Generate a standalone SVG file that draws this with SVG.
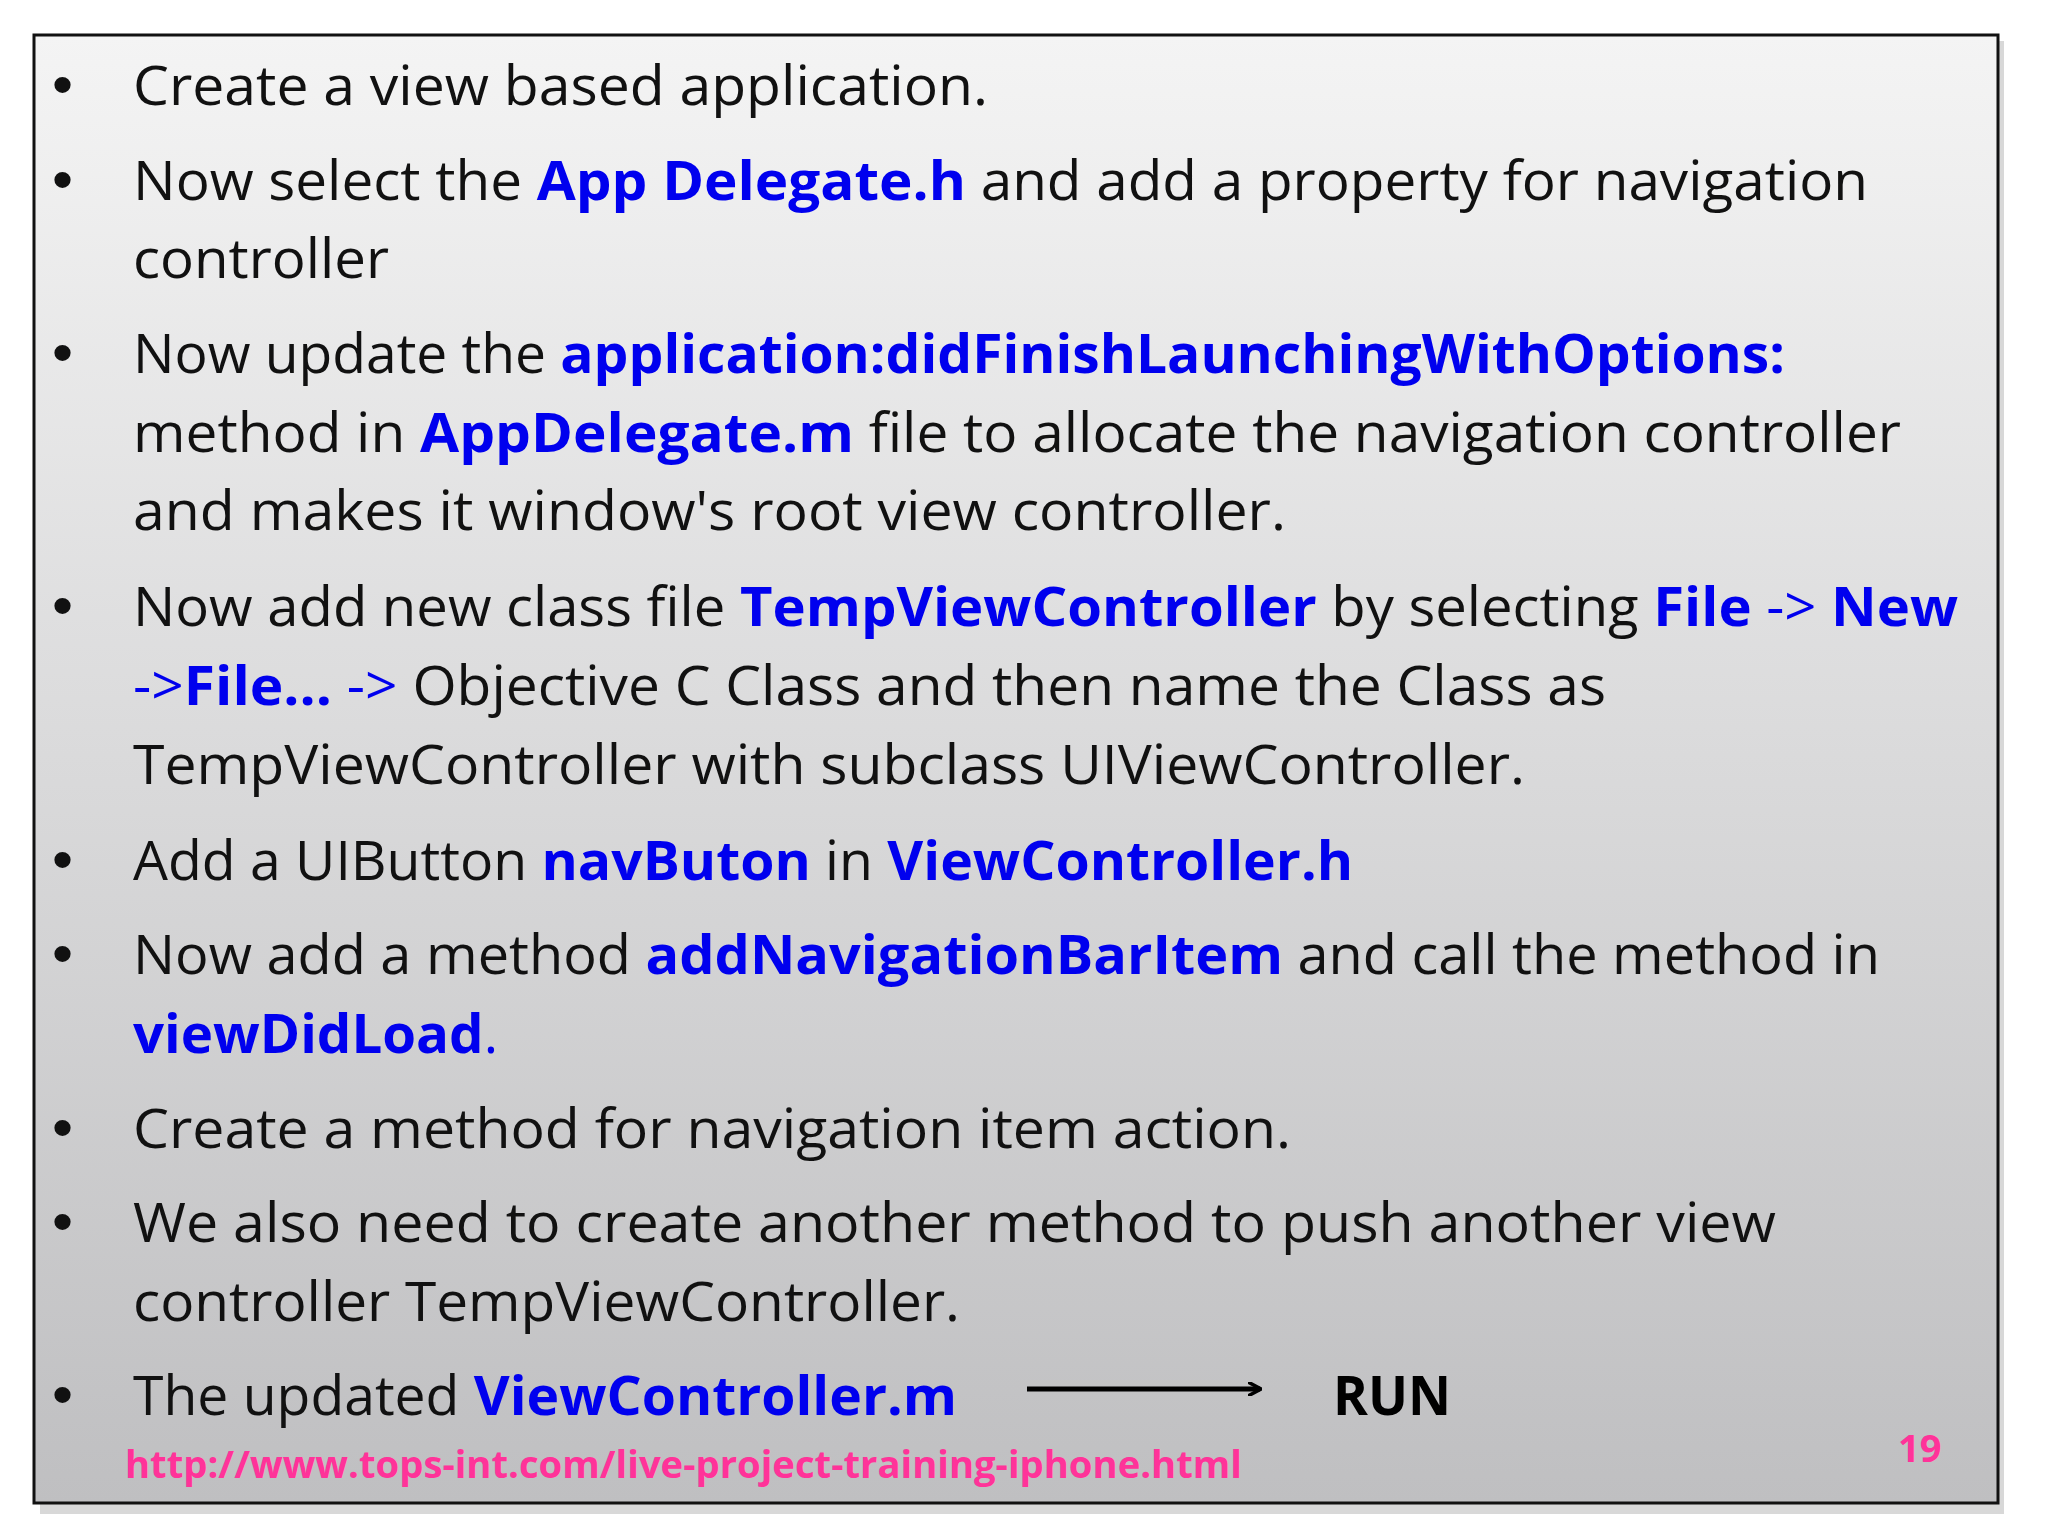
<svg xmlns="http://www.w3.org/2000/svg" width="2048" height="1536" viewBox="0 0 2048 1536">
<defs>
<linearGradient id="bg" x1="0" y1="0" x2="0" y2="1"><stop offset="0" stop-color="#f4f4f4"/><stop offset="1" stop-color="#bfbfc1"/></linearGradient>
<marker id="ah" markerWidth="14" markerHeight="14" refX="12" refY="7" orient="auto" markerUnits="userSpaceOnUse"><path d="M0,0 L13,7 L0,14" fill="none" stroke="#000" stroke-width="3.5"/></marker>
<style>
.t{font-family:"Open Sans","Noto Sans",sans-serif;font-size:54px;fill:#111}
.d{font-family:"Liberation Sans",sans-serif;font-size:60px;fill:#111}
.b{font-weight:bold;fill:#0000ee}
.u{font-family:"Open Sans",sans-serif;font-weight:bold;font-size:38px;fill:#ff3399}
</style>
</defs>
<rect width="2048" height="1536" fill="#fff"/>
<rect x="40" y="41" width="1964" height="1473" fill="#d8d8d8"/>
<rect x="34" y="35" width="1964" height="1468" fill="url(#bg)" stroke="#111" stroke-width="3"/>
<g id="bullets" class="d">
<text x="52" y="105">•</text><text x="52" y="200">•</text><text x="52" y="373">•</text><text x="52" y="626">•</text><text x="52" y="880">•</text><text x="52" y="974">•</text><text x="52" y="1148">•</text><text x="52" y="1242">•</text><text x="52" y="1415">•</text>
</g>
<g id="text" class="t">
<text x="133" y="105" textLength="855" lengthAdjust="spacingAndGlyphs">Create a view based application.</text>
<text x="133" y="200" textLength="1735" lengthAdjust="spacingAndGlyphs">Now select the <tspan class="b">App Delegate.h</tspan> and add a property for navigation</text>
<text x="133" y="278" textLength="256" lengthAdjust="spacingAndGlyphs">controller</text>
<text x="133" y="373" textLength="1652" lengthAdjust="spacingAndGlyphs">Now update the <tspan class="b">application:didFinishLaunchingWithOptions:</tspan></text>
<text x="133" y="452" textLength="1768" lengthAdjust="spacingAndGlyphs">method in <tspan class="b">AppDelegate.m</tspan> file to allocate the navigation controller</text>
<text x="133" y="530" textLength="1153" lengthAdjust="spacingAndGlyphs">and makes it window's root view controller.</text>
<text x="133" y="626" textLength="1825" lengthAdjust="spacingAndGlyphs">Now add new class file <tspan class="b">TempViewController</tspan> by selecting <tspan class="b">File</tspan><tspan fill="#0000ee"> -&gt; </tspan><tspan class="b">New</tspan></text>
<text x="133" y="705" textLength="1473" lengthAdjust="spacingAndGlyphs"><tspan fill="#0000ee">-&gt;</tspan><tspan class="b">File...</tspan><tspan fill="#0000ee"> -&gt;</tspan> Objective C Class and then name the Class as</text>
<text x="133" y="784" textLength="1392" lengthAdjust="spacingAndGlyphs">TempViewController with subclass UIViewController.</text>
<text x="133" y="880" textLength="1220" lengthAdjust="spacingAndGlyphs">Add a UIButton <tspan class="b">navButon</tspan> in <tspan class="b">ViewController.h</tspan></text>
<text x="133" y="974" textLength="1747" lengthAdjust="spacingAndGlyphs">Now add a method <tspan class="b">addNavigationBarItem</tspan> and call the method in</text>
<text x="133" y="1053" textLength="365" lengthAdjust="spacingAndGlyphs"><tspan class="b">viewDidLoad</tspan><tspan fill="#0000ee">.</tspan></text>
<text x="133" y="1148" textLength="1158" lengthAdjust="spacingAndGlyphs">Create a method for navigation item action.</text>
<text x="133" y="1242" textLength="1643" lengthAdjust="spacingAndGlyphs">We also need to create another method to push another view</text>
<text x="133" y="1321" textLength="827" lengthAdjust="spacingAndGlyphs">controller TempViewController.</text>
<text x="133" y="1415" textLength="824" lengthAdjust="spacingAndGlyphs">The updated <tspan class="b">ViewController.m</tspan></text>
<text x="1333" y="1415" font-weight="bold" fill="#000" textLength="118" lengthAdjust="spacingAndGlyphs">RUN</text>
</g>
<g id="connectors"><line x1="1027" y1="1389" x2="1260" y2="1389" stroke="#000" stroke-width="5" marker-end="url(#ah)"/></g>
<text class="u" x="125" y="1478" textLength="1117" lengthAdjust="spacingAndGlyphs">http://www.tops-int.com/live-project-training-iphone.html</text>
<text class="u" x="1898" y="1462">19</text>
</svg>
